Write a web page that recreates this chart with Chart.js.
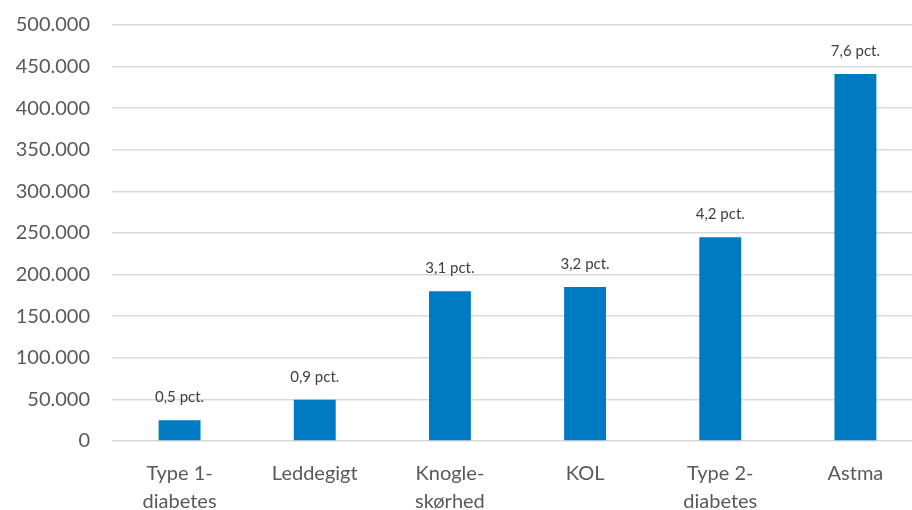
<!DOCTYPE html>
<html>
<head>
<meta charset="utf-8">
<script src="https://cdn.jsdelivr.net/npm/chart.js@4.4.1/dist/chart.umd.min.js"></script>
<style>
    html, body { margin: 0; padding: 0; background: #fff; overflow: hidden; }
    #wrap { width: 923px; height: 510px; }
</style>
</head>
<body>
<div id="wrap"><canvas id="myChart"></canvas></div>
<script>
const categories = [['Type 1-', 'diabetes'], 'Leddegigt', ['Knogle-', 'skørhed'], 'KOL', ['Type 2-', 'diabetes'], 'Astma'];
const patients = [25000, 49500, 180000, 185000, 245000, 441000];
const pctLabels = ['0,5 pct.', '0,9 pct.', '3,1 pct.', '3,2 pct.', '4,2 pct.', '7,6 pct.'];

// simple label plugin, draws the pct. text above each bar
const barLabels = {
    id: 'barLabels',
    afterDatasetsDraw(chart) {
        const ctx = chart.ctx;
        const meta = chart.getDatasetMeta(0);
        ctx.save();
        ctx.font = '15px Lato';
        ctx.fillStyle = '#404040';
        ctx.textAlign = 'center';
        ctx.textBaseline = 'middle';
        meta.data.forEach((bar, i) => {
            ctx.fillText(pctLabels[i], bar.x, bar.y - 23);
        });
        ctx.restore();
    }
};

function renderChart() {
    const ctx = document.getElementById('myChart');

    new Chart(ctx, {
        type: 'bar',
        data: {
            labels: categories,
            datasets: [{
                data: patients,
                backgroundColor: '#007AC2',
                categoryPercentage: 1,
                barPercentage: 0.31
            }]
        },
        options: {
            animation: false,
            responsive: true,
            maintainAspectRatio: false,
            layout: { padding: { top: 25, right: 0, left: 0, bottom: 0 } },
            scales: {
                x: {
                    grid: { display: false, drawTicks: false },
                    border: { display: false },
                    ticks: {
                        color: '#595959',
                        font: { family: 'Lato', size: 20, lineHeight: 1.4 },
                        padding: 19,
                        maxRotation: 0
                    },
                    afterFit: (scale) => { scale.height = 69; }
                },
                y: {
                    min: 0,
                    max: 500000,
                    grid: { color: '#d9d9d9', lineWidth: 1.5, drawTicks: false },
                    border: { display: false },
                    ticks: {
                        stepSize: 50000,
                        color: '#595959',
                        font: { family: 'Lato', size: 20 },
                        padding: 22,
                        callback: (v) => v.toLocaleString('da-DK')
                    },
                    afterFit: (scale) => {
                        scale.width = 112;
                        scale.paddingTop = 0;
                        scale.paddingBottom = 0;
                    }
                }
            },
            plugins: {
                legend: { display: false },
                tooltip: { enabled: false }
            }
        },
        plugins: [barLabels]
    });
}
renderChart();
</script>
</body>
</html>
